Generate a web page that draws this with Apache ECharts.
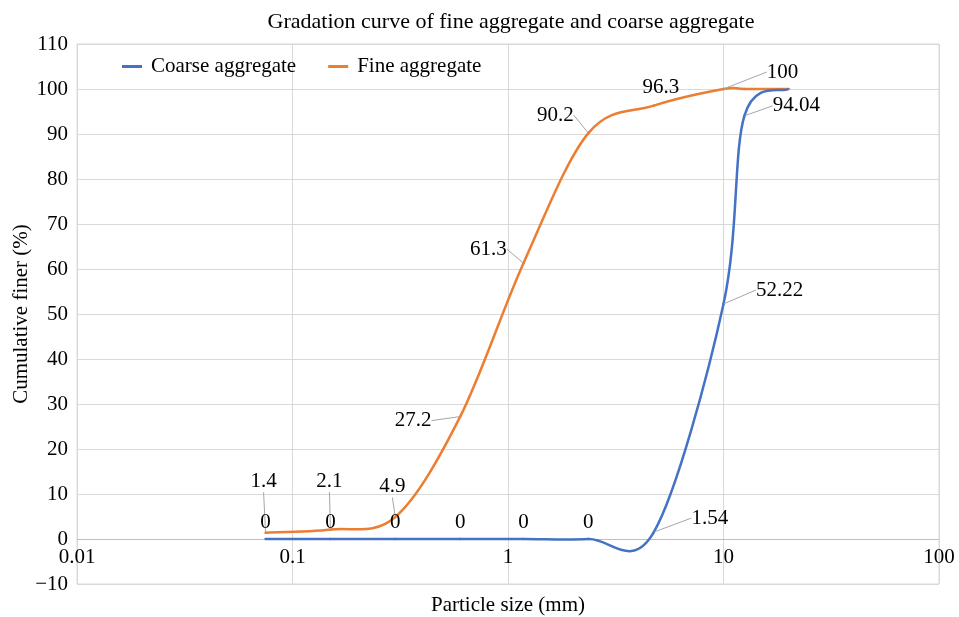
<!DOCTYPE html>
<html>
<head>
<meta charset="utf-8">
<script src="https://cdn.jsdelivr.net/npm/echarts@6/dist/echarts.min.js"></script>
<style>
html,body{margin:0;padding:0;background:#fff;}
#chart{width:959px;height:617px;}
</style>
</head>
<body>
<div id="chart"></div>
<script>
// ---- data ----
const sieveSizes = [0.075, 0.15, 0.3, 0.6, 1.18, 2.36, 4.75, 10, 12.5, 20];
const coarseValues = [0, 0, 0, 0, 0, 0, 1.54, 52.22, 94.04, 100];
const fineValues = [1.4, 2.1, 4.9, 27.2, 61.3, 90.2, 96.3, 100, 100, 100];
const coarseLabelShown = [true, true, true, true, true, true, true, true, true, false];
const fineLabelShown = [true, true, true, true, true, true, true, true, false, false];
const xTickLabels = ['0.01', '0.1', '1', '10', '100'];
const seriesNames = ['Coarse aggregate', 'Fine aggregate'];
const seriesColors = ['#4472C4', '#ED7D31'];

// ---- label placement (offset of label centre from its point, px) ----
const coarseLabelOffsets = [[0,-17],[0,-17],[0,-17],[0,-17],[0,-17],[0,-17],[56,-14],[56,-14],[52,-10],null];
const fineLabelOffsets = [[-2,-51],[-1,-48],[-3,-30],[-47,4],[-35,-14],[-33,-18],[7,-18],[59,-17],null,null];
const coarseLeader = [false,false,false,false,false,false,true,true,true,false];
const fineLeader = [true,true,true,true,true,true,false,true,false,false];

const FONT = '"Liberation Serif","Times New Roman",serif';
const FS = 21;

function buildData(vals, shown, leader, offs) {
  return sieveSizes.map((s, i) => {
    const lab = { show: shown[i] };
    if (!leader[i] && offs[i]) {
      lab.position = [offs[i][0] + 0.5, offs[i][1] + 0.5];
      lab.align = 'center';
      lab.verticalAlign = 'middle';
    }
    return { value: [s, vals[i]], label: lab, labelLine: { show: leader[i] } };
  });
}

const offsets = [coarseLabelOffsets, fineLabelOffsets];
const leaders = [coarseLeader, fineLeader];

// smooth curve (Catmull-Rom style Bezier, like spreadsheet smoothing) drawn via axis scales
function curveSeries(vals, color, z) {
  const n = sieveSizes.length;
  const cl = k => Math.max(0, Math.min(n - 1, k));
  return {
    type: 'custom',
    coordinateSystem: 'cartesian2d',
    silent: true,
    z: z,
    encode: { x: 0, y: 1 },
    data: sieveSizes.map((s, i) => [s, vals[i]]),
    renderItem: function (params, api) {
      const i = params.dataIndex;
      if (i >= n - 1) return null;
      const P = k => api.coord([sieveSizes[cl(k)], vals[cl(k)]]);
      const p0 = P(i - 1), p1 = P(i), p2 = P(i + 1), p3 = P(i + 2);
      const c1 = [p1[0] + (p2[0] - p0[0]) / 6, p1[1] + (p2[1] - p0[1]) / 6];
      const c2 = [p2[0] - (p3[0] - p1[0]) / 6, p2[1] - (p3[1] - p1[1]) / 6];
      return {
        type: 'bezierCurve',
        shape: { x1: p1[0], y1: p1[1], x2: p2[0], y2: p2[1], cpx1: c1[0], cpy1: c1[1], cpx2: c2[0], cpy2: c2[1] },
        style: { stroke: color, lineWidth: 2.5, fill: null, lineCap: 'round' }
      };
    }
  };
}

function labelSeries(idx, vals, shown, leader, offs) {
  const s = {
    name: seriesNames[idx],
    type: 'line',
    symbol: 'circle',
    symbolSize: 1,
    showSymbol: true,
    color: seriesColors[idx],
    lineStyle: { color: seriesColors[idx], width: 2.5, opacity: 0 },
    itemStyle: { color: seriesColors[idx] },
    label: { show: true, position: 'top', fontFamily: FONT, fontSize: FS, color: '#000' },
    labelLine: { show: true, lineStyle: { color: '#a6a6a6', width: 1 } },
    emphasis: { disabled: true },
    data: buildData(vals, shown, leader, offs),
    z: 5
  };
  if (idx === 0) {
    // horizontal axis line at y = 0
    s.markLine = {
      silent: true, symbol: 'none', animation: false,
      label: { show: false },
      lineStyle: { color: '#bfbfbf', width: 1, type: 'solid' },
      emphasis: { disabled: true },
      data: [{ yAxis: 0 }],
      z: 1
    };
  }
  return s;
}

const chart = echarts.init(document.getElementById('chart'), null, { renderer: 'canvas' });
const option = {
  animation: false,
  backgroundColor: '#ffffff',
  title: {
    text: 'Gradation curve of fine aggregate and coarse aggregate',
    left: 506,
    textAlign: 'center',
    top: 6,
    textStyle: { fontFamily: FONT, fontSize: 22, fontWeight: 'normal', color: '#000' }
  },
  legend: {
    left: 117,
    top: 51,
    icon: 'rect',
    itemWidth: 20,
    itemHeight: 3,
    itemGap: 32,
    textStyle: { fontFamily: FONT, fontSize: FS, color: '#000', padding: [0, 0, 0, 4] },
    data: seriesNames
  },
  grid: {
    left: 77, right: 20, top: 44, bottom: 33,
    show: true, borderColor: '#d9d9d9', borderWidth: 1,
    containLabel: false,
    outerBoundsMode: 'none'
  },
  xAxis: {
    type: 'log',
    logBase: 10,
    min: 0.01,
    max: 100,
    position: 'bottom',
    name: 'Particle size (mm)',
    nameLocation: 'middle',
    nameGap: 11,
    nameMoveOverlap: false,
    nameTextStyle: { fontFamily: FONT, fontSize: FS, color: '#000' },
    axisLine: { show: false, onZero: false },
    axisTick: { show: false },
    axisLabel: {
      fontFamily: FONT, fontSize: FS, color: '#000', margin: -37,
      formatter: function (v) {
        const idx = Math.round(Math.log10(v)) + 2;
        return xTickLabels[idx] !== undefined ? xTickLabels[idx] : '';
      }
    },
    splitLine: { show: true, lineStyle: { color: '#d9d9d9', width: 1 } }
  },
  yAxis: {
    type: 'value',
    min: -10,
    max: 110,
    interval: 10,
    name: 'Cumulative finer (%)',
    nameLocation: 'middle',
    nameGap: 45,
    nameMoveOverlap: false,
    nameTextStyle: { fontFamily: FONT, fontSize: FS, color: '#000' },
    axisLine: { show: false, onZero: false },
    axisTick: { show: false },
    axisLabel: {
      fontFamily: FONT, fontSize: FS, color: '#000', margin: 9,
      formatter: function (v) { return v < 0 ? '\u2212' + Math.abs(v) : String(v); }
    },
    splitLine: { show: true, lineStyle: { color: '#d9d9d9', width: 1 } }
  },
  series: [
    curveSeries(fineValues, seriesColors[1], 2),
    curveSeries(coarseValues, seriesColors[0], 3),
    labelSeries(0, coarseValues, coarseLabelShown, coarseLeader, coarseLabelOffsets),
    labelSeries(1, fineValues, fineLabelShown, fineLeader, fineLabelOffsets)
  ],
  labelLayout: function (params) {
    const si = params.seriesIndex - 2;
    if (si < 0 || si > 1) return {};
    const off = offsets[si][params.dataIndex];
    if (!off || !leaders[si][params.dataIndex]) return {};
    const cx = params.rect.x + params.rect.width / 2;
    const cy = params.rect.y + params.rect.height / 2;
    return { x: cx + off[0], y: cy + off[1], align: 'center', verticalAlign: 'middle' };
  }
};
chart.setOption(option);
</script>
</body>
</html>
